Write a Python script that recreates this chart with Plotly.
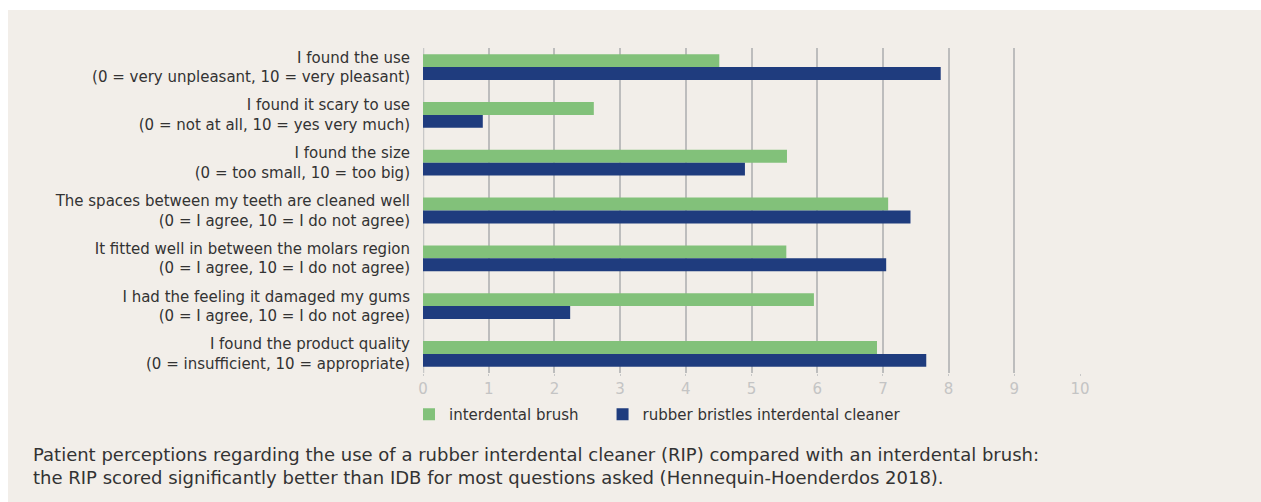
import plotly.graph_objects as go

categories = [
    "I found the use<br>(0 = very unpleasant, 10 = very pleasant)",
    "I found it scary to use<br>(0 = not at all, 10 = yes very much)",
    "I found the size<br>(0 = too small, 10 = too big)",
    "The spaces between my teeth are cleaned well<br>(0 = I agree, 10 = I do not agree)",
    "It fitted well in between the molars region<br>(0 = I agree, 10 = I do not agree)",
    "I had the feeling it damaged my gums<br>(0 = I agree, 10 = I do not agree)",
    "I found the product quality<br>(0 = insufficient, 10 = appropriate)",
]
brush = [4.51, 2.60, 5.54, 7.08, 5.53, 5.95, 6.91]
rubber = [7.88, 0.91, 4.90, 7.42, 7.05, 2.24, 7.66]
tick_vals = list(range(0, 11))
series_names = ["interdental brush", "rubber bristles interdental cleaner"]
caption = ("Patient perceptions regarding the use of a rubber interdental cleaner (RIP) compared with an interdental brush:<br>"
           "the RIP scored significantly better than IDB for most questions asked (Hennequin-Hoenderdos 2018).")

W, H = 1261, 502
# plot area in page coordinates: left 423, right 1080, top 48, bottom 373
L, T = 423, 48
R = W - 1080
B = H - 373
FONT = "DejaVu Sans"
TXT = "#333333"

fig = go.Figure()
fig.add_trace(go.Bar(y=categories, x=brush, orientation="h",
                     name=series_names[0] + "&nbsp;&nbsp;&nbsp;&nbsp;",
                     marker=dict(color="#82c17a", line=dict(width=0))))
fig.add_trace(go.Bar(y=categories, x=rubber, orientation="h", name=series_names[1],
                     marker=dict(color="#1f3c7e", line=dict(width=0))))

pw = W - L - R
ph = H - T - B
def px_x(x):
    return (x - L) / pw
def px_y(y):
    return (H - B - y) / ph

fig.add_shape(type="rect", xref="paper", yref="paper",
              x0=px_x(8), x1=px_x(W + 20), y0=px_y(H + 20), y1=px_y(10),
              fillcolor="#f2eee9", line=dict(width=0), layer="below")

fig.add_annotation(text=caption, xref="paper", yref="paper", x=px_x(31), y=px_y(442),
                   xanchor="left", yanchor="top", align="left", showarrow=False,
                   font=dict(family=FONT, size=18, color=TXT))

fig.update_layout(
    width=W, height=H,
    margin=dict(l=L, r=R, t=T, b=B, pad=0),
    paper_bgcolor="white", plot_bgcolor="rgba(0,0,0,0)",
    barmode="group", bargap=0.46, bargroupgap=0,
    font=dict(family=FONT, size=14, color=TXT),
    showlegend=True,
    legend=dict(orientation="h", x=px_x(409), y=px_y(398), xanchor="left", yanchor="top",
                bgcolor="rgba(0,0,0,0)", font=dict(family=FONT, size=15, color=TXT),
                itemclick=False, traceorder="normal"),
    xaxis=dict(range=[0, 10], tickvals=tick_vals, showgrid=True, gridcolor="#bdbdbd", gridwidth=1.5,
               zeroline=False, showline=False, ticks="outside", ticklen=2, tickcolor="#c8c8c8",
               tickfont=dict(family=FONT, size=15, color="#c4c4c4"), fixedrange=True),
    yaxis=dict(categoryorder="array", categoryarray=categories, range=[6.4, -0.4],
               showgrid=False, zeroline=False, showline=False, ticks="",
               ticklabelstandoff=12, tickfont=dict(family=FONT, size=15, color=TXT)),
)
fig.add_vline(x=0, line=dict(color="#c8c8c8", width=2.5), layer="below")

fig.write_html("out.html", config={"displayModeBar": False},
               post_script="document.body.style.margin='0px';")
